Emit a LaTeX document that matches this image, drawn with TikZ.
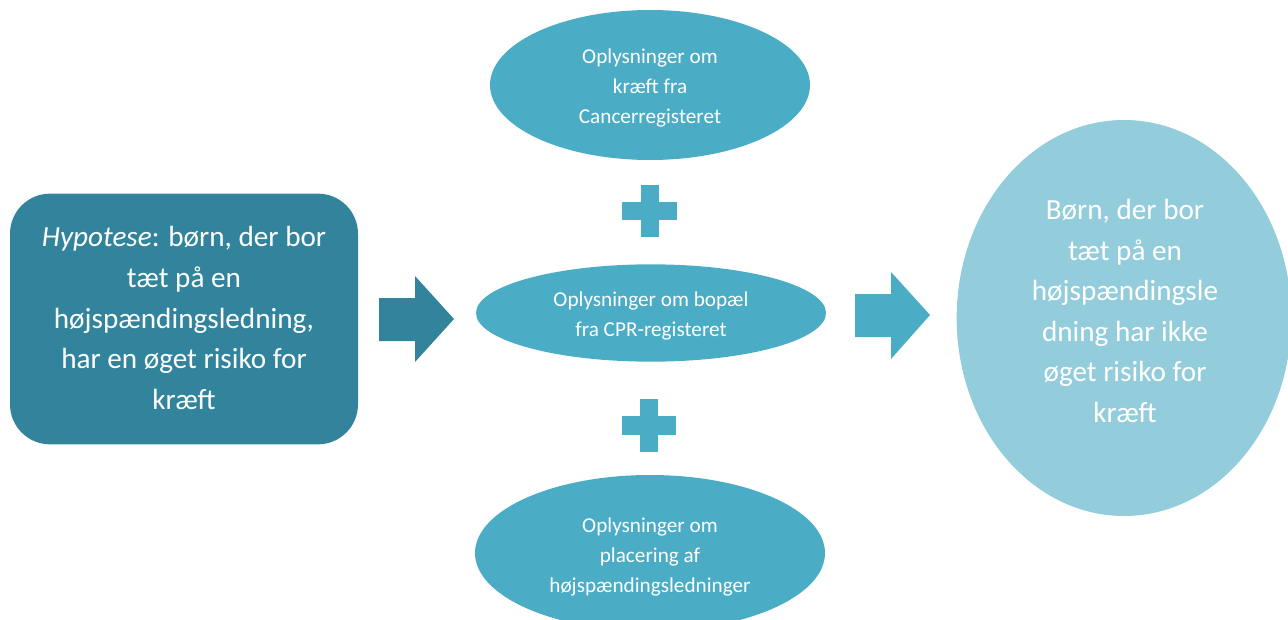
\documentclass[tikz,border=0pt]{standalone}
\usepackage{fontspec}
\setmainfont{Carlito}
\usetikzlibrary{shapes.geometric}
\definecolor{tealdark}{HTML}{31849B}
\definecolor{tealmid}{HTML}{4BACC6}
\definecolor{teallight}{HTML}{93CDDC}
\begin{document}
\begin{tikzpicture}[x=0.75pt,y=-0.75pt,
  bigtext/.style={text=white,font=\fontsize{21.9}{30.4}\selectfont,align=center,inner sep=0pt},
  smalltext/.style={text=white,font=\fontsize{15.9}{22.6}\selectfont,align=center,inner sep=0pt},
  srcellipse/.style={ellipse,fill=tealmid,inner sep=0pt},
  plusbar/.style={fill=tealmid}]
\useasboundingbox (0,0) rectangle (1288,620);

% hypothesis box
\node[rectangle,rounded corners=30pt,fill=tealdark,minimum width=261pt,minimum height=188pt,inner sep=0pt]
  (hyp) at (184,319) {};
\node[bigtext] (hyptext) at (184,318)
  {\textit{Hypotese}: børn, der bor\\tæt på en\\højspændingsledning,\\har en øget risiko for\\kræft};

% data sources
\node[srcellipse,minimum width=240pt,minimum height=112.5pt] (cancer) at (650,85) {};
\node[smalltext] (cancertext) at (650,88)
  {Oplysninger om\\kræft fra\\Cancerregisteret};
\node[srcellipse,minimum width=262.5pt,minimum height=73pt] (cpr) at (651,313) {};
\node[smalltext] (cprtext) at (651,316)
  {Oplysninger om bopæl\\fra CPR-registeret};
\node[srcellipse,minimum width=262.5pt,minimum height=117pt] (lines) at (650,553) {};
\node[smalltext] (linestext) at (650,557)
  {Oplysninger om\\placering af\\højspændingsledninger};

% plus signs between the sources
\fill[plusbar] (641,185) rectangle (659,237);
\fill[plusbar] (622,202) rectangle (677,220);
\fill[plusbar] (640,399) rectangle (658,452);
\fill[plusbar] (622,416) rectangle (676,435);

% conclusion
\node[ellipse,fill=teallight,minimum width=251pt,minimum height=297pt,inner sep=0pt]
  (result) at (1124,318) {};
\node[bigtext] (resulttext) at (1125,311)
  {Børn, der bor\\tæt på en\\højspændingsle\\dning har ikke\\øget risiko for\\kræft};

% block arrows
\fill[tealdark] (379,298) -- (415,298) -- (415,276) -- (454,319) -- (415,362) -- (415,341) -- (379,341) -- cycle;
\fill[tealmid] (855,294) -- (891,294) -- (891,272) -- (930,315) -- (891,359) -- (891,337) -- (855,337) -- cycle;
\end{tikzpicture}
\end{document}
